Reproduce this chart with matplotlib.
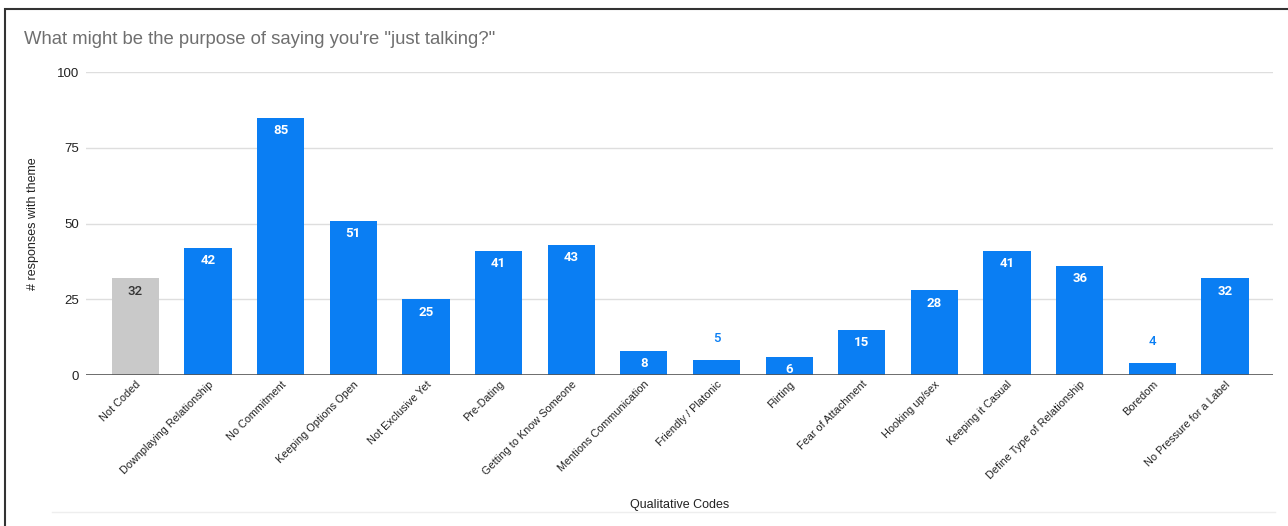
import numpy as np
import matplotlib.pyplot as plt
from matplotlib.patches import Rectangle

plt.rcParams['font.family'] = ['Liberation Sans', 'DejaVu Sans']

codes = ["Not Coded", "Downplaying Relationship", "No Commitment", "Keeping Options Open",
         "Not Exclusive Yet", "Pre-Dating", "Getting to Know Someone", "Mentions Communication",
         "Friendly / Platonic", "Flirting", "Fear of Attachment", "Hooking up/sex",
         "Keeping it Casual", "Define Type of Relationship", "Boredom", "No Pressure for a Label"]
counts = [32, 42, 85, 51, 25, 41, 43, 8, 5, 6, 15, 28, 41, 36, 4, 32]

blue = "#0a7ef3"
gray = "#c9c9c9"
colors = [gray] + [blue] * (len(codes) - 1)

fig = plt.figure(figsize=(12.88, 5.26), dpi=100)
ax = fig.add_axes([0.0668, 0.287, 0.9215, 0.576])

x = np.arange(len(codes))
ax.bar(x, counts, width=0.65, color=colors, zorder=2)

for xi, v, c in zip(x, counts, colors):
    if v < 6:
        ax.text(xi, v + 7, str(v), ha='center', va='center', color=blue,
                fontsize=9.5, family=['Roboto', 'DejaVu Sans'], fontweight='medium')
    else:
        tc = "#333333" if c == gray else "white"
        fw = 'medium' if c == gray else 'bold'
        ax.text(xi, v - 4.3, str(v), ha='center', va='center', color=tc,
                fontsize=9.5, family=['Roboto', 'DejaVu Sans'], fontweight=fw)

ax.set_xlim(-0.68, 15.66)
ax.set_ylim(0, 100)
ax.set_yticks([0, 25, 50, 75, 100])
ax.grid(axis='y', color='#dedede', linewidth=1, zorder=0)
ax.axhline(0, color='#555555', linewidth=1.2, zorder=3)
for s in ax.spines.values():
    s.set_visible(False)
ax.tick_params(axis='both', length=0)
ax.tick_params(axis='y', labelsize=9.5, pad=5, colors='#222222')
ax.set_xticks(x)
ax.set_xticklabels(codes, rotation=45, ha='right', rotation_mode='anchor',
                   fontsize=7.8, color='#222222')
ax.tick_params(axis='x', pad=3)

ax.set_ylabel("# responses with theme", fontsize=9, color='#222222')
ax.yaxis.set_label_coords(-0.040, 0.5)
fig.text(0.528, 0.039, "Qualitative Codes", ha='center', va='center', fontsize=9, color='#222222')

fig.text(0.0186, 0.925, "What might be the purpose of saying you're \"just talking?\"",
         ha='left', va='center', fontsize=13.3, color='#6f6f6f')

# outer frame
fig.patches.append(Rectangle((0.004, -0.1), 1.5, 1.083, transform=fig.transFigure,
                             fill=False, edgecolor='#333333', linewidth=1.5))
fig.lines.append(plt.Line2D([0.04, 0.99], [0.027, 0.027], transform=fig.transFigure,
                            color='#eeeeee', linewidth=1))

fig.savefig("out.png", dpi=100, facecolor='white')
